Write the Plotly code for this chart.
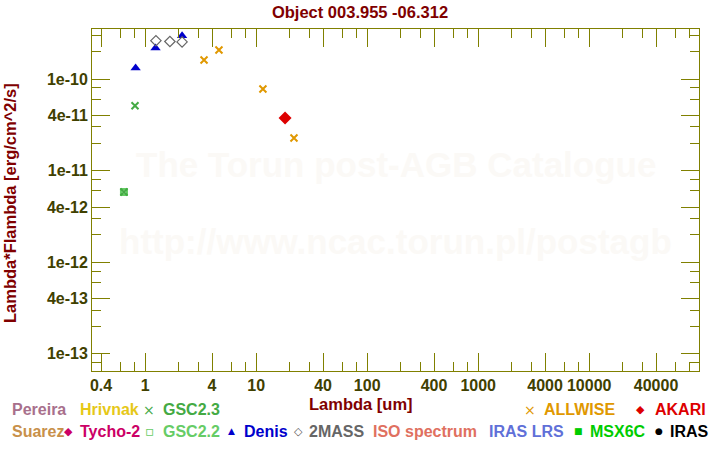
import plotly.graph_objects as go
import math

# ---- data (wavelength in um, lambda*F_lambda in erg/cm^2/s) ----
denis_x = [0.82, 1.24, 2.15]
denis_y = [1.32e-10, 2.18e-10, 2.97e-10]

tmass_x = [1.25, 1.67, 2.15]
tmass_y = [2.62e-10, 2.57e-10, 2.54e-10]

allwise_x = [3.39, 4.62, 11.5, 21.9]
allwise_y = [1.61e-10, 2.07e-10, 7.78e-11, 2.27e-11]

akari_x = [18.2]
akari_y = [3.75e-11]

gsc23_x = [0.81, 0.644]
gsc23_y = [5.11e-11, 5.83e-12]

gsc22_x = [0.644]
gsc22_y = [5.83e-12]

x_tick_vals = [0.4, 1, 4, 10, 40, 100, 400, 1000, 4000, 10000, 40000]
x_tick_text = ["0.4", "1", "4", "10", "40", "100", "400", "1000", "4000", "10000", "40000"]
y_tick_vals = [1e-13, 4e-13, 1e-12, 4e-12, 1e-11, 4e-11, 1e-10]
y_tick_text = ["1e-13", "4e-13", "1e-12", "4e-12", "1e-11", "4e-11", "1e-10"]

title_text = "Object 003.955 -06.312"
x_title = "Lambda [um]"
y_title = "Lambda*Flambda [erg/cm^2/s]"

# ---- layout constants ----
L, R, T, B = 92, 21, 29, 79
W, H = 720, 450
PW = W - L - R
PH = H - T - B
OLIVE = "#808000"
LABEL = "#404000"
MAROON = "#800000"
FONT = "Liberation Sans"
WATER = "#FBF9F6"

def px(xp):
    return (xp - L) / PW

def py(yp):
    return (H - B - yp) / PH

minor_x = []
for e in range(-1, 5):
    for m in (2, 3, 6, 8):
        v = m * 10 ** e
        if 0.33 < v < 97000:
            minor_x.append(v)
minor_y = []
for e in range(-14, -9):
    for m in (2, 3, 6, 8):
        v = m * 10.0 ** e
        if 6.5e-14 < v < 3.5e-10:
            minor_y.append(v)

fig = go.Figure()
fig.add_trace(go.Scatter(x=gsc22_x, y=gsc22_y, mode="markers",
    marker=dict(symbol="square-open", size=6, color="#66CC66", line=dict(width=2, color="#66CC66"))))
fig.add_trace(go.Scatter(x=gsc23_x, y=gsc23_y, mode="markers",
    marker=dict(symbol="x-thin-open", size=7, color="#44AA44", line=dict(width=2, color="#44AA44"))))
fig.add_trace(go.Scatter(x=denis_x, y=denis_y, mode="markers",
    marker=dict(symbol="triangle-up", size=9, color="#0000CC", line=dict(width=0))))
fig.add_trace(go.Scatter(x=tmass_x, y=tmass_y, mode="markers",
    marker=dict(symbol="diamond-open", size=8, color="#666666", line=dict(width=1.2, color="#666666"))))
fig.add_trace(go.Scatter(x=allwise_x, y=allwise_y, mode="markers",
    marker=dict(symbol="x-thin-open", size=7, color="#E09800", line=dict(width=2, color="#E09800"))))
fig.add_trace(go.Scatter(x=akari_x, y=akari_y, mode="markers",
    marker=dict(symbol="diamond", size=10, color="#DD0000", line=dict(width=0))))

axis_common = dict(
    type="log", showgrid=False, zeroline=False, showline=True, linecolor=OLIVE, linewidth=1,
    mirror="ticks", ticks="inside", ticklen=18, tickwidth=1, tickcolor=OLIVE,
    tickfont=dict(family=FONT, size=16, color=LABEL, weight="bold"),
)

fig.update_layout(
    width=W, height=H, margin=dict(l=L, r=R, t=T, b=B),
    paper_bgcolor="white", plot_bgcolor="white", showlegend=False,
    title=dict(text=title_text, x=0.5, xanchor="center", y=1 - 12 / H, yanchor="middle",
               font=dict(family=FONT, size=16.5, color=MAROON, weight="bold")),
    xaxis=dict(range=[-0.479, 4.989], tickvals=x_tick_vals, ticktext=x_tick_text,
               minor=dict(tickvals=minor_x, ticks="inside", ticklen=9, tickwidth=1, tickcolor=OLIVE),
               **axis_common),
    yaxis=dict(range=[-13.189, -9.454], tickvals=y_tick_vals, ticktext=y_tick_text,
               minor=dict(tickvals=minor_y, ticks="inside", ticklen=9, tickwidth=1, tickcolor=OLIVE),
               **axis_common),
)

ann = []
# watermarks
ann.append(dict(text="The Torun post-AGB Catalogue", x=0.5, y=py(164), xref="paper", yref="paper",
                showarrow=False, font=dict(family=FONT, size=35, color=WATER, weight="bold")))
ann.append(dict(text="http://www.ncac.torun.pl/postagb", x=0.5, y=py(263), xref="paper", yref="paper",
                showarrow=False, font=dict(family=FONT, size=35, color=WATER, weight="bold")))
# axis titles
ann.append(dict(text=x_title, x=px(361), y=py(404), xref="paper", yref="paper", showarrow=False,
                xanchor="center", yanchor="middle",
                font=dict(family=FONT, size=16.5, color=MAROON, weight="bold")))
ann.append(dict(text=y_title, x=px(10), y=py(203), xref="paper", yref="paper", showarrow=False,
                textangle=-90, xanchor="center", yanchor="middle",
                font=dict(family=FONT, size=16.5, color=MAROON, weight="bold")))

# legend entries: (text, colour, left px, row y px)
legend_text = [
    ("Pereira", "#A8708C", 10, 410), ("Hrivnak", "#E6C818", 78, 410), ("GSC2.3", "#44AA44", 161, 410),
    ("ALLWISE", "#E09800", 542, 410), ("AKARI", "#DD0000", 653, 410),
    ("Suarez", "#C8904A", 10, 431), ("Tycho-2", "#CC0066", 78, 431), ("GSC2.2", "#66CC66", 161, 431),
    ("Denis", "#0000CC", 242, 431), ("2MASS", "#666666", 307, 431), ("ISO spectrum", "#E07060", 371, 431),
    ("IRAS LRS", "#6070D8", 487, 431), ("MSX6C", "#00CC00", 588, 431), ("IRAS", "#000000", 668, 431),
]
legend_sym = [
    ("×", "#44AA44", 149, 410, 14), ("×", "#E09800", 530, 410, 14), ("◆", "#DD0000", 640, 410, 11),
    ("◆", "#CC0066", 68, 431, 11), ("▫", "#66CC66", 150, 431, 14), ("▲", "#0000CC", 231, 431, 9),
    ("◇", "#555555", 298, 431, 11), ("■", "#00CC00", 578, 431, 9), ("●", "#000000", 659, 431, 9),
]
for t, c, x0, y0 in legend_text:
    ann.append(dict(text=t, x=px(x0), y=py(y0), xref="paper", yref="paper", showarrow=False,
                    xanchor="left", yanchor="middle",
                    font=dict(family=FONT, size=16, color=c, weight="bold")))
for s, c, x0, y0, sz in legend_sym:
    ann.append(dict(text=s, x=px(x0), y=py(y0), xref="paper", yref="paper", showarrow=False,
                    xanchor="center", yanchor="middle",
                    font=dict(family="DejaVu Sans", size=sz, color=c)))
fig.update_layout(annotations=ann)

fig.write_html("out.html")
